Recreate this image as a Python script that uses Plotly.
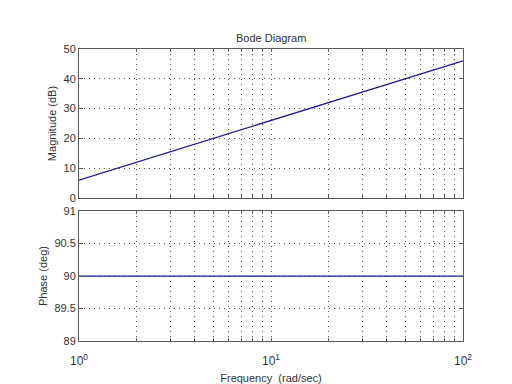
import plotly.graph_objects as go
from plotly.subplots import make_subplots

# Data
freq = [1, 10, 100]
magnitude_db = [6.02, 26.02, 46.02]
phase_deg = [90, 90, 90]

x_tickvals = [1, 2, 3, 4, 5, 6, 7, 8, 9, 10, 20, 30, 40, 50, 60, 70, 80, 90, 100]
x_ticktext = ["10<sup>0</sup>", "", "", "", "", "", "", "", "", "10<sup>1</sup>",
              "", "", "", "", "", "", "", "", "10<sup>2</sup>"]
mag_ticks = [0, 10, 20, 30, 40, 50]
phase_ticks = [89, 89.5, 90, 90.5, 91]
phase_ticktext = ["89", "89.5", "90", "90.5", "91"]

font = "Liberation Sans, Arial, sans-serif"
axcol = "#5a5a5a"
gridcol = "#555555"
txtcol = "#333333"
linecol = "#1c1c8e"

fig = make_subplots(rows=2, cols=1, shared_xaxes=False, vertical_spacing=0.0)

fig.add_trace(go.Scatter(x=freq, y=magnitude_db, mode="lines",
                         line=dict(color=linecol, width=1.3)), row=1, col=1)
fig.add_trace(go.Scatter(x=freq, y=phase_deg, mode="lines",
                         line=dict(color=linecol, width=1.3)), row=2, col=1)

common_x = dict(type="log", range=[0, 2], tickvals=x_tickvals, automargin=False,
                showgrid=True, gridcolor=gridcol, griddash="1px,4px", gridwidth=1,
                showline=True, linecolor=axcol, linewidth=1, mirror="allticks",
                ticks="inside", ticklen=3, tickcolor=axcol, zeroline=False,
                tickfont=dict(family=font, size=12, color=txtcol))
common_y = dict(showgrid=True, gridcolor=gridcol, griddash="1px,4px", gridwidth=1,
                automargin=False,
                showline=True, linecolor=axcol, linewidth=1, mirror="allticks",
                ticks="inside", ticklen=4, tickcolor=axcol, zeroline=False,
                tickfont=dict(family=font, size=11, color=txtcol))

fig.update_layout(
    width=512, height=384,
    margin=dict(l=71, r=57, t=41, b=51),
    paper_bgcolor="white", plot_bgcolor="white",
    showlegend=False,
    font=dict(family=font, size=11, color=txtcol),
    xaxis=dict(common_x, domain=[0, 1], anchor="y", ticktext=[""] * len(x_tickvals)),
    xaxis2=dict(common_x, domain=[0, 1], anchor="y2", ticktext=x_ticktext,
                ticklabelstandoff=9,
                title=dict(text="Frequency  (rad/sec)", standoff=6,
                           font=dict(family=font, size=11, color=txtcol))),
    yaxis=dict(common_y, domain=[0.4897, 1], range=[0, 50], tickvals=mag_ticks,
               title=dict(text="Magnitude (dB)", standoff=4,
                          font=dict(family=font, size=11, color=txtcol))),
    yaxis2=dict(common_y, domain=[0, 0.445], range=[89, 91], tickvals=phase_ticks,
                ticktext=phase_ticktext,
                title=dict(text="Phase (deg)", standoff=4,
                           font=dict(family=font, size=11, color=txtcol))),
    annotations=[dict(text="Bode Diagram", x=0.5, y=1, xref="paper", yref="paper",
                      xanchor="center", yanchor="bottom", yshift=3, showarrow=False,
                      font=dict(family=font, size=11, color=txtcol))],
)

fig.write_html("out.html")
